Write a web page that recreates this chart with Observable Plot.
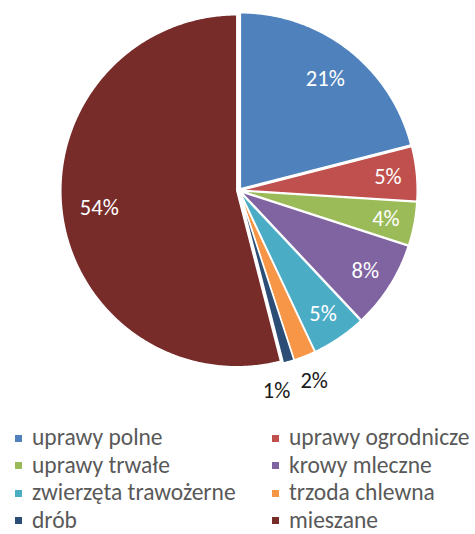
<!DOCTYPE html>
<html><head><meta charset="utf-8">
<script src="https://cdn.jsdelivr.net/npm/d3@7"></script>
<script src="https://cdn.jsdelivr.net/npm/@observablehq/plot@0.6"></script>
<style>
body{margin:0;background:#fff;overflow:hidden;}
#chart{width:475px;}
#chart svg{display:block;}
.lg-swatches{font-family:Carlito, Calibri, Lato, sans-serif; font-size:23.5px; line-height:1; color:#595959; margin:0 !important; padding-left:15px; display:grid !important; grid-template-columns:257px 203px; row-gap:7.5px; margin-top:18px !important; min-height:0 !important;}
.lg-swatch{height:20px; display:inline-flex; align-items:center; margin:0 !important; white-space:nowrap; line-height:1;}
.lg-swatch > svg{margin-right:10px !important; flex-shrink:0;}
</style></head><body><div id="chart"></div>
<script>
const categories = ["uprawy polne","uprawy ogrodnicze","uprawy trwałe","krowy mleczne","zwierzęta trawożerne","trzoda chlewna","drób","mieszane"];
const values = [21,5,4,8,5,2,1,54];
const colors = ["#4F81BD","#C0504D","#9BBB59","#8064A2","#4BACC6","#F79646","#2C4D75","#772C2A"];
const labels = values.map(v => v + "%");

const W = 475, H = 410, cx = 238.5, cy = 190, R = 176;
const explode = 2.2 / R;

const arcs = d3.pie().sort(null).value(d => d)(values);
const pts = [];
const lab = [];
let lastOut = -Infinity;
arcs.forEach((a, i) => {
  const mid = (a.startAngle + a.endAngle) / 2;
  const ox = explode * Math.sin(mid), oy = explode * Math.cos(mid);
  pts.push({cat: categories[i], x: ox, y: oy});
  const n = Math.max(2, Math.ceil((a.endAngle - a.startAngle) / 0.01));
  for (let k = 0; k <= n; k++) {
    const t = a.startAngle + (a.endAngle - a.startAngle) * k / n;
    pts.push({cat: categories[i], x: ox + Math.sin(t), y: oy + Math.cos(t)});
  }
  const span = a.endAngle - a.startAngle;
  const inside = values[i] >= 4;
  let ang = mid, rr;
  if (inside) rr = span > Math.PI / 3 ? 0.80 : 0.85;
  else { rr = 1.16; ang = Math.max(mid, lastOut + 11 * Math.PI / 180); lastOut = ang; }
  lab.push({x: rr * Math.sin(ang), y: rr * Math.cos(ang), text: labels[i], inside});
});

const plot = Plot.plot({
  width: W, height: H, margin: 0,
  x: {axis: null, domain: [(0 - cx) / R, (W - cx) / R]},
  y: {axis: null, domain: [-(H - cy) / R, cy / R]},
  color: {domain: categories, range: colors},
  style: {fontFamily: "Carlito, Calibri, Lato, sans-serif"},
  marks: [
    Plot.line(pts, {x: "x", y: "y", z: "cat", fill: "cat", stroke: "white", strokeWidth: 1.5, curve: "linear-closed"}),
    Plot.text(lab, {x: "x", y: "y", text: "text", fill: d => d.inside ? "white" : "#1a1a1a", fontSize: 22.5})
  ]
});
document.getElementById("chart").append(plot);
const legend = Plot.legend({color: {type: "categorical", domain: categories, range: colors}, className: "lg", swatchSize: 7});
document.getElementById("chart").append(legend);
</script></body></html>
